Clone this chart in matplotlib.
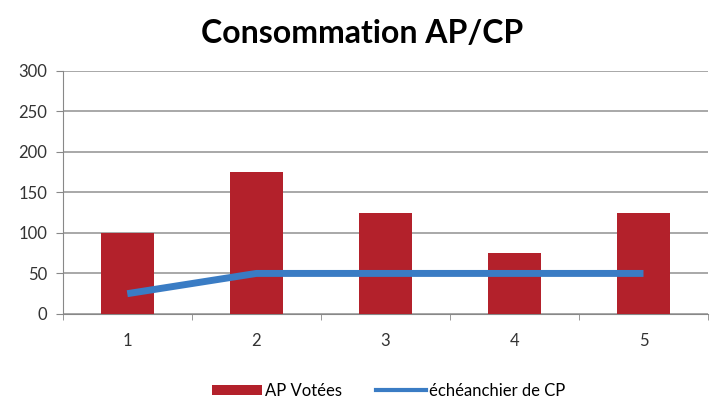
import matplotlib.pyplot as plt
import numpy as np
from matplotlib.lines import Line2D

plt.rcParams['font.family'] = ['Lato', 'DejaVu Sans']

# donnees
categories = ['1', '2', '3', '4', '5']
ap_votees = [100, 175, 125, 75, 125]
echeancier_cp = [25, 50, 50, 50, 50]

fig = plt.figure(figsize=(7.13, 4.12), dpi=100)
ax = fig.add_axes([0.088, 0.238, 0.905, 0.59])

x = np.arange(len(categories))
bars = ax.bar(x, ap_votees, width=0.41, color='#B3212B', label='AP Votées', zorder=3)
ax.plot(x, echeancier_cp, color='#3A7CC4', linewidth=5, zorder=4, solid_capstyle='butt')

ax.set_xlim(-0.5, len(categories) - 0.5)
ax.set_ylim(0, 300)
ax.set_yticks(range(0, 301, 50))
ax.set_xticks(x)
ax.set_xticklabels(categories)
ax.set_xticks(np.arange(-0.5, len(categories), 1), minor=True)
ax.tick_params(axis='x', which='major', length=0, pad=14, labelsize=12, colors='#333333')
ax.tick_params(axis='x', which='minor', length=4, color='#888888')
ax.tick_params(axis='y', length=5, color='#888888', labelsize=12, colors='#333333', pad=6)
ax.grid(axis='y', color='#9a9a9a', linewidth=1.2, zorder=0)

for s in ['top', 'right']:
    ax.spines[s].set_visible(False)
ax.spines['left'].set_color('#888888')
ax.spines['bottom'].set_color('#888888')

fig.suptitle('Consommation AP/CP', fontsize=23, fontweight='bold', y=0.955, x=0.508)

# poignee de legende plus fine que la courbe
line_handle = Line2D([], [], color='#3A7CC4', linewidth=3, label='échéanchier de CP')
fig.legend(handles=[bars, line_handle], loc='lower center', bbox_to_anchor=(0.545, -0.005),
           ncol=2, frameon=False, fontsize=12, handlelength=3, columnspacing=2,
           handletextpad=0.2, handleheight=0.6)

fig.savefig('out.png', dpi=100)
